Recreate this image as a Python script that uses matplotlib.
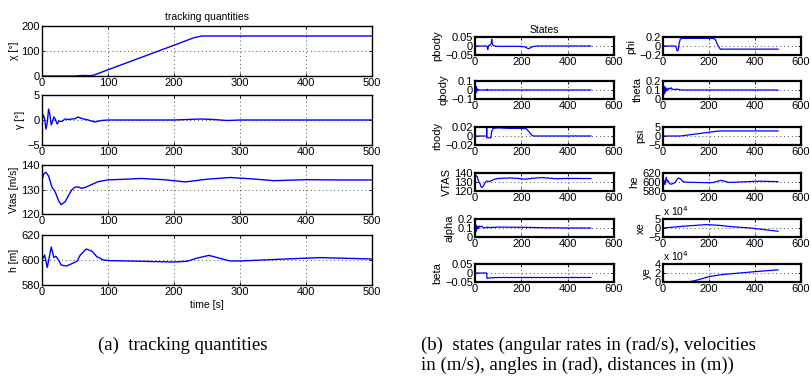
import matplotlib
matplotlib.use('Agg')
import matplotlib.pyplot as plt
from matplotlib.ticker import FuncFormatter, FixedLocator

# ---------------- data: left panel (tracking quantities) ----------------
chi_t = [0, 50, 55, 60, 65, 70, 76, 80, 100, 150, 200, 230, 240, 245, 500]
chi_v = [0, 0, 1, 2, 2, 1.5, 2, 5, 25, 74, 123, 153, 159, 160, 160]

gam_t = [0, 2, 4, 6, 8, 10, 12, 14, 16, 18, 20, 23, 26, 30, 35, 40, 45, 50, 55, 60,
         70, 80, 90, 100, 200, 240, 260, 280, 300, 500]
gam_v = [0, 1.0, 0.2, -1.8, -0.5, 2.2, 1.0, -1.0, -0.3, 0.6, 0.2, -0.8, -0.2, -0.3,
         0.2, 0.1, 0.2, 0.25, 0.6, 0.3, 0.0, -0.4, -0.1, 0.0, 0.0, 0.2, 0.1, -0.1, 0, 0]

vt_t = [0, 3, 6, 10, 15, 20, 25, 29, 35, 40, 45, 50, 55, 60, 65, 75, 85, 100, 150,
        185, 217, 250, 285, 320, 351, 400, 450, 500]
vt_v = [134, 136.5, 137, 135.5, 131, 129, 125.5, 123.8, 125, 127.5, 129.8, 131, 131,
        130.5, 130.8, 132, 133.2, 133.9, 134.5, 134, 133.1, 134.2, 134.9, 134.3, 133.6,
        134, 133.9, 133.9]

h_t = [0, 4, 8, 14, 18, 21, 25, 29, 37, 45, 53, 58, 67, 76, 83, 93, 104, 200, 220, 235,
       253, 265, 285, 300, 391, 422, 500]
h_v = [600, 604, 594, 610.4, 602, 603, 600, 596, 595.2, 597, 599, 604, 608.8, 607,
       602.7, 600, 599.5, 598.4, 599, 601.5, 603.7, 602, 599.2, 599.2, 601.3, 601.9, 600.8]

# ---------------- data: right panel (states) ----------------
pb_t = [0, 50, 53, 55, 57, 60, 65, 70, 72, 74, 78, 85, 100, 200, 215, 230, 240, 250, 270, 500]
pb_v = [0, 0, -0.005, -0.02, -0.006, 0.004, 0.003, 0.012, 0.038, 0.02, 0.003, 0, -0.002,
        -0.002, -0.005, -0.015, -0.01, -0.003, 0, 0]

qb_t = [0, 1, 2, 3, 4, 5, 6, 7, 8, 10, 12, 15, 20, 50, 52, 54, 56, 500]
qb_v = [0, 0.05, -0.045, 0.04, -0.03, 0.035, -0.02, 0.02, -0.01, 0.01, -0.005, 0.003,
        0, 0, 0.008, -0.003, 0, 0]

rb_t = [0, 50, 50.5, 51, 68, 72, 78, 100, 150, 200, 222, 235, 245, 252, 500]
rb_v = [0, 0, 0.02, -0.004, -0.004, 0.01, 0.017, 0.018, 0.017, 0.017, 0.016, 0.008,
        0.002, 0, 0]

phi_t = [0, 55, 58, 61, 66, 70, 75, 82, 100, 220, 228, 238, 249, 255, 500]
phi_v = [0, 0, -0.03, -0.11, -0.09, 0.05, 0.15, 0.17, 0.17, 0.17, 0.14, 0.02, -0.07,
         -0.07, -0.07]

th_t = [0, 1, 2, 3, 4, 5, 6, 8, 10, 13, 16, 20, 25, 30, 35, 40, 50, 60, 80, 500]
th_v = [0.1, 0.03, 0.15, 0.05, 0.14, 0.06, 0.13, 0.07, 0.13, 0.09, 0.12, 0.1, 0.12,
        0.11, 0.125, 0.11, 0.105, 0.11, 0.1, 0.1]

psi_t = [0, 75, 100, 240, 250, 500]
psi_v = [0, 0, 0.4, 2.75, 2.8, 2.8]

al_t = [0, 1, 2, 3, 4, 6, 8, 10, 13, 16, 20, 25, 30, 35, 45, 50, 60, 100, 200, 300, 400, 500]
al_v = [0.1, 0.04, 0.14, 0.06, 0.13, 0.07, 0.12, 0.09, 0.12, 0.1, 0.12, 0.115, 0.12,
        0.105, 0.1, 0.11, 0.105, 0.11, 0.108, 0.103, 0.1, 0.1]

xe_t = [0, 100, 190, 250, 300, 380, 440, 500]
xe_v = [0, 11000, 19000, 14000, 7000, 0, -9000, -18000]

ye_t = [0, 100, 130, 160, 200, 250, 300, 400, 500]
ye_v = [0, 0, 2000, 6000, 12000, 16000, 18500, 23000, 27000]

be_t = [0, 50, 52, 60, 70, 100, 500]
be_v = [0, 0, -0.03, -0.028, -0.027, -0.025, -0.025]

W, H = 811, 385
fig = plt.figure(figsize=(W / 100, H / 100), dpi=100)
plt.rcParams['font.family'] = ['Liberation Sans', 'DejaVu Sans']
plt.rcParams['axes.unicode_minus'] = True


def ax_px(x0, y0, x1, y1):
    return fig.add_axes([x0 / W, 1 - y1 / H, (x1 - x0) / W, (y1 - y0) / H])


def fmt(v, p):
    s = '%g' % v
    return s.replace('-', '\u2212')


def style(ax, xt, yt, ylim, xlim, fs, lw):
    ax.set_xlim(*xlim)
    ax.set_ylim(*ylim)
    ax.xaxis.set_major_locator(FixedLocator(xt))
    ax.yaxis.set_major_locator(FixedLocator(yt))
    ax.yaxis.set_major_formatter(FuncFormatter(fmt))
    ax.xaxis.set_major_formatter(FuncFormatter(fmt))
    ax.tick_params(direction='in', length=2.5, width=0.6, labelsize=fs, pad=1.5,
                   top=True, right=True)
    for s in ax.spines.values():
        s.set_linewidth(lw)
    for x in xt[1:-1]:
        ax.axvline(x, color='0.3', lw=0.7, ls=(0, (1, 3)), zorder=0)
    for y in yt[1:-1]:
        ax.axhline(y, color='0.3', lw=0.7, ls=(0, (1, 3)), zorder=0)


# ---- left panel
left = [
    (26, 76, chi_t, chi_v, (0, 200), [0, 100, 200], '\u03c7 [\u00b0]'),
    (95, 145, gam_t, gam_v, (-5, 5), [-5, 0, 5], '\u03b3 [\u00b0]'),
    (165, 214, vt_t, vt_v, (120, 140), [120, 130, 140], 'Vtas [m/s]'),
    (235, 285, h_t, h_v, (580, 620), [580, 600, 620], 'h [m]'),
]
for i, (y0, y1, t, v, yl, yt, lab) in enumerate(left):
    ax = ax_px(42, y0, 372, y1)
    ax.plot(t, v, color='#0000ff', lw=1.0)
    style(ax, [0, 100, 200, 300, 400, 500], yt, yl, (0, 500), 8, 1.0)
    ax.set_ylabel(lab, fontsize=7.5, labelpad=2)
    if i == 0:
        ax.set_title('tracking quantities', fontsize=7.5, pad=4)
    if i == 3:
        ax.set_xlabel('time [s]', fontsize=7.5, labelpad=2)

# ---- right panel
tops = [37, 81, 127, 173, 219, 264]
right_l = [
    (pb_t, pb_v, (-0.05, 0.05), [-0.05, 0, 0.05], 'pbody', False),
    (qb_t, qb_v, (-0.1, 0.1), [-0.1, 0, 0.1], 'qbody', False),
    (rb_t, rb_v, (-0.02, 0.02), [-0.02, 0, 0.02], 'rbody', False),
    (vt_t, vt_v, (120, 140), [120, 130, 140], 'VTAS', False),
    (al_t, al_v, (0, 0.2), [0, 0.1, 0.2], 'alpha', False),
    (be_t, be_v, (-0.05, 0.05), [-0.05, 0, 0.05], 'beta', False),
]
right_r = [
    (phi_t, phi_v, (-0.2, 0.2), [-0.2, 0, 0.2], 'phi', False),
    (th_t, th_v, (0, 0.2), [0, 0.1, 0.2], 'theta', False),
    (psi_t, psi_v, (-5, 5), [-5, 0, 5], 'psi', False),
    (h_t, h_v, (580, 620), [580, 600, 620], 'he', False),
    (xe_t, xe_v, (-50000, 50000), [-50000, 0, 50000], 'xe', True),
    (ye_t, ye_v, (0, 40000), [0, 20000, 40000], 'ye', True),
]
for col, (x0, x1, series) in enumerate([(475, 614, right_l), (663, 801, right_r)]):
    for r, (t, v, yl, yt, lab, sci) in enumerate(series):
        ax = ax_px(x0, tops[r], x1, tops[r] + 18)
        ax.plot(t, v, color='#0000ff', lw=0.9)
        style(ax, [0, 200, 400, 600], yt, yl, (0, 600), 8.0, 1.6)
        if sci:
            ax.yaxis.set_major_formatter(FuncFormatter(lambda v, p: fmt(v / 1e4, p)))
            ax.text(0, 1.08, r'x 10$^4$', transform=ax.transAxes, fontsize=7.5,
                    va='bottom', ha='left')
        ax.set_ylabel(lab, fontsize=8, labelpad=2)
        if col == 0 and r == 0:
            ax.set_title('States', fontsize=7.5, pad=3)

# ---- captions
cap = dict(family=['Liberation Serif', 'DejaVu Serif'], fontsize=13.5, va='baseline')
fig.text(98 / W, 1 - 350 / H, '(a)  tracking quantities', ha='left', **cap)
fig.text(421 / W, 1 - 350 / H, '(b)  states (angular rates in (rad/s), velocities',
         ha='left', **cap)
fig.text(421 / W, 1 - 370 / H, 'in (m/s), angles in (rad), distances in (m))',
         ha='left', **cap)

fig.savefig('out.png', dpi=100)
